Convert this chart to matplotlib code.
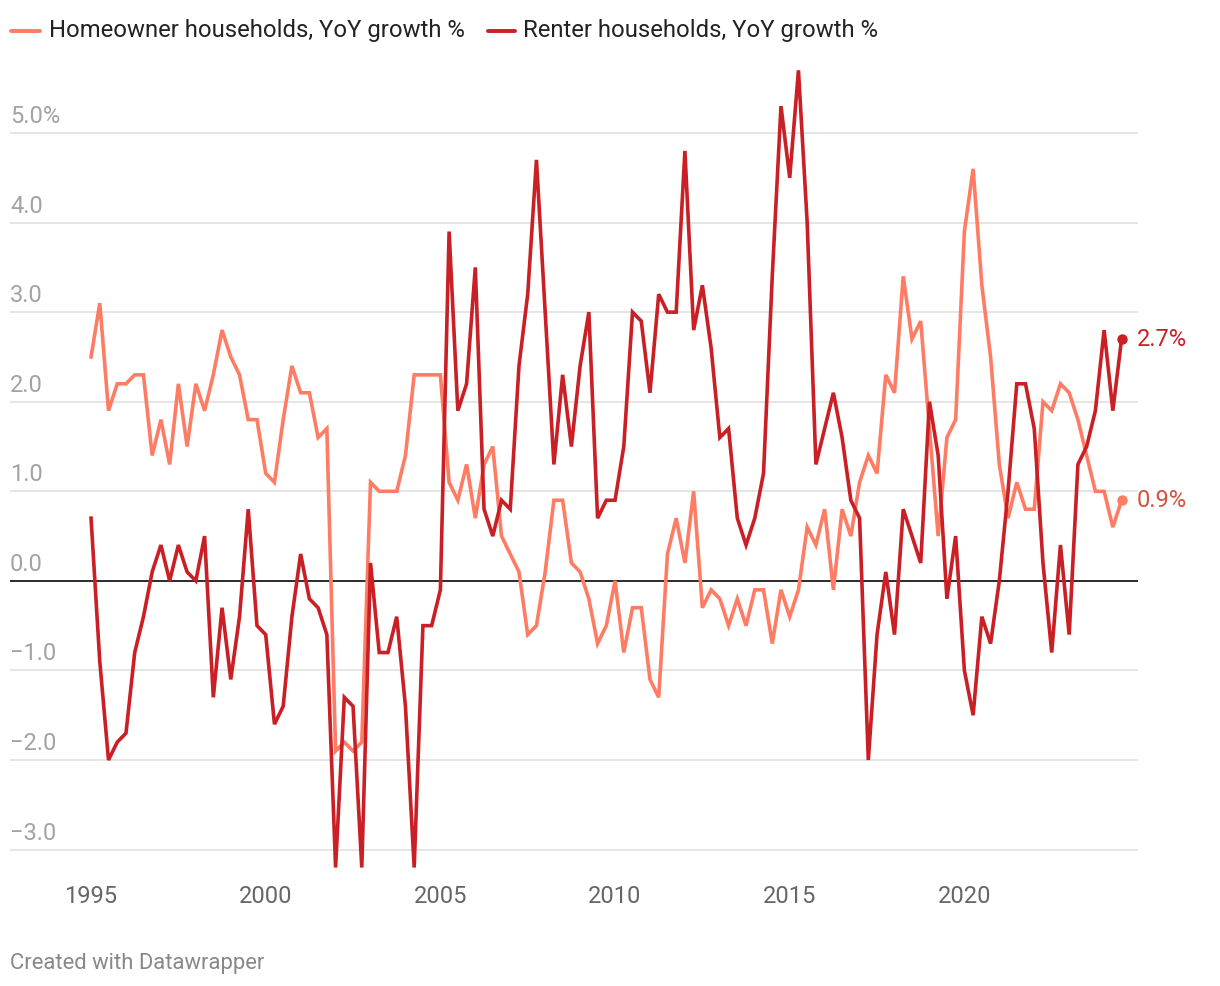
import matplotlib
matplotlib.use("Agg")
import matplotlib.pyplot as plt
import matplotlib.transforms as mtransforms
from matplotlib.lines import Line2D
import numpy as np

plt.rcParams["font.family"] = ["Roboto", "DejaVu Sans"]

# quarterly YoY growth, 1995Q1 .. 2024Q3
start_year = 1995
homeowner = [
    2.5, 3.1, 1.9, 2.2, 2.2, 2.3, 2.3, 1.4, 1.8, 1.3, 2.2, 1.5, 2.2, 1.9, 2.3, 2.8,
    2.5, 2.3, 1.8, 1.8, 1.2, 1.1,
    1.8, 2.4, 2.1, 2.1, 1.6, 1.7, -1.9, -1.8, -1.9, -1.8, 1.1, 1.0, 1.0, 1.0,
    1.4, 2.3, 2.3, 2.3, 2.3,
    1.1, 0.9, 1.3, 0.7, 1.3, 1.5, 0.5, 0.3, 0.1, -0.6, -0.5, 0.1, 0.9, 0.9,
    0.2, 0.1, -0.2, -0.7, -0.5, 0.0,
    -0.8, -0.3, -0.3, -1.1, -1.3, 0.3, 0.7, 0.2, 1.0, -0.3, -0.1, -0.2, -0.5,
    -0.2, -0.5, -0.1, -0.1, -0.7, -0.1, -0.4, -0.1,
    0.6, 0.4, 0.8, -0.1, 0.8, 0.5, 1.1, 1.4, 1.2, 2.3, 2.1, 3.4, 2.7, 2.9, 1.7,
    0.5, 1.6, 1.8, 3.9, 4.6, 3.3, 2.5, 1.3, 0.7, 1.1, 0.8, 0.8, 2.0, 1.9, 2.2,
    2.1, 1.8, 1.4, 1.0, 1.0, 0.6, 0.9,
]
renter = [
    0.7, -0.9, -2.0, -1.8, -1.7, -0.8, -0.4, 0.1, 0.4, 0.0, 0.4, 0.1, 0.0, 0.5,
    -1.3, -0.3, -1.1, -0.4, 0.8, -0.5, -0.6, -1.6,
    -1.4, -0.4, 0.3, -0.2, -0.3, -0.6, -3.2, -1.3, -1.4, -3.2, 0.2, -0.8, -0.8,
    -0.4, -1.4, -3.2, -0.5, -0.5, -0.1,
    3.9, 1.9, 2.2, 3.5, 0.8, 0.5, 0.9, 0.8, 2.4, 3.2, 4.7, 3.0, 1.3, 2.3, 1.5,
    2.4, 3.0, 0.7, 0.9, 0.9,
    1.5, 3.0, 2.9, 2.1, 3.2, 3.0, 3.0, 4.8, 2.8, 3.3, 2.6, 1.6, 1.7, 0.7, 0.4,
    0.7, 1.2, 3.4, 5.3, 4.5, 5.7,
    4.0, 1.3, 1.7, 2.1, 1.6, 0.9, 0.7, -2.0, -0.6, 0.1, -0.6, 0.8, 0.5, 0.2, 2.0,
    1.4, -0.2, 0.5, -1.0, -1.5, -0.4, -0.7, 0.0, 1.0, 2.2, 2.2, 1.7, 0.2, -0.8,
    0.4, -0.6, 1.3, 1.5, 1.9, 2.8, 1.9, 2.7,
]
years = start_year + np.arange(len(homeowner)) / 4

y_ticks = [5, 4, 3, 2, 1, 0, -1, -2, -3]
y_labels = ["5.0%", "4.0", "3.0", "2.0", "1.0", "0.0", "\u22121.0", "\u22122.0", "\u22123.0"]
x_ticks = [1995, 2000, 2005, 2010, 2015, 2020]

HOME = "#ff7c64"
RENT = "#c91f25"

W, H = 1220, 986
fig = plt.figure(figsize=(W / 100, H / 100), dpi=100)
fig.patch.set_facecolor("white")

left, right, top, bottom = 10, 1138, 60, 877
ax = fig.add_axes([left / W, 1 - bottom / H, (right - left) / W, (bottom - top) / H])
ax.set_xlim(1992.68, 2024.97)
ax.set_ylim(-3.306, 5.815)
for sp in ax.spines.values():
    sp.set_visible(False)
ax.set_yticks([])

for v, lab in zip(y_ticks, y_labels):
    if v == 0:
        ax.axhline(0, color="#1a1a1a", lw=1.3, zorder=3)
    else:
        ax.axhline(v, color="#e3e3e3", lw=1.3, zorder=0)
    trans = mtransforms.offset_copy(ax.get_yaxis_transform(), fig=fig, x=0, y=5, units="dots")
    ax.text(0, v, lab, transform=trans, ha="left", va="bottom",
            fontsize=17, color="#a3a3a3")

ax.set_xticks(x_ticks)
ax.set_xticklabels([str(x) for x in x_ticks])
ax.tick_params(axis="x", length=0, pad=6, labelsize=17, labelcolor="#666666")

ax.plot(years, homeowner, color=HOME, lw=2.6, solid_joinstyle="miter", zorder=4)
ax.plot(years, renter, color=RENT, lw=2.6, solid_joinstyle="miter", zorder=5)

ax.plot(years[-1], homeowner[-1], "o", color=HOME, ms=6.5, zorder=6)
ax.plot(years[-1], renter[-1], "o", color=RENT, ms=6.5, zorder=6)
ax.annotate(f"{renter[-1]:.1f}%", (years[-1], renter[-1]), xytext=(11, 0),
            textcoords="offset points", va="center", ha="left",
            fontsize=17, color=RENT)
ax.annotate(f"{homeowner[-1]:.1f}%", (years[-1], homeowner[-1]), xytext=(11, 0),
            textcoords="offset points", va="center", ha="left",
            fontsize=17, color="#d3533f")

# legend drawn by hand, datawrapper style
ly = 1 - 31 / H
for x0, x1, tx, col, lab in [
    (11, 40, 49, HOME, "Homeowner households, YoY growth %"),
    (488, 515, 523, RENT, "Renter households, YoY growth %"),
]:
    fig.add_artist(Line2D([x0 / W, x1 / W], [ly, ly], color=col, lw=2.8,
                          solid_capstyle="round"))
    fig.text(tx / W, ly, lab, ha="left", va="center", fontsize=17.2, color="#222222")

fig.text(10 / W, 1 - 963 / H, "Created with Datawrapper", ha="left", va="center",
         fontsize=15.8, color="#888888")

fig.savefig("out.png", dpi=100, facecolor="white")
